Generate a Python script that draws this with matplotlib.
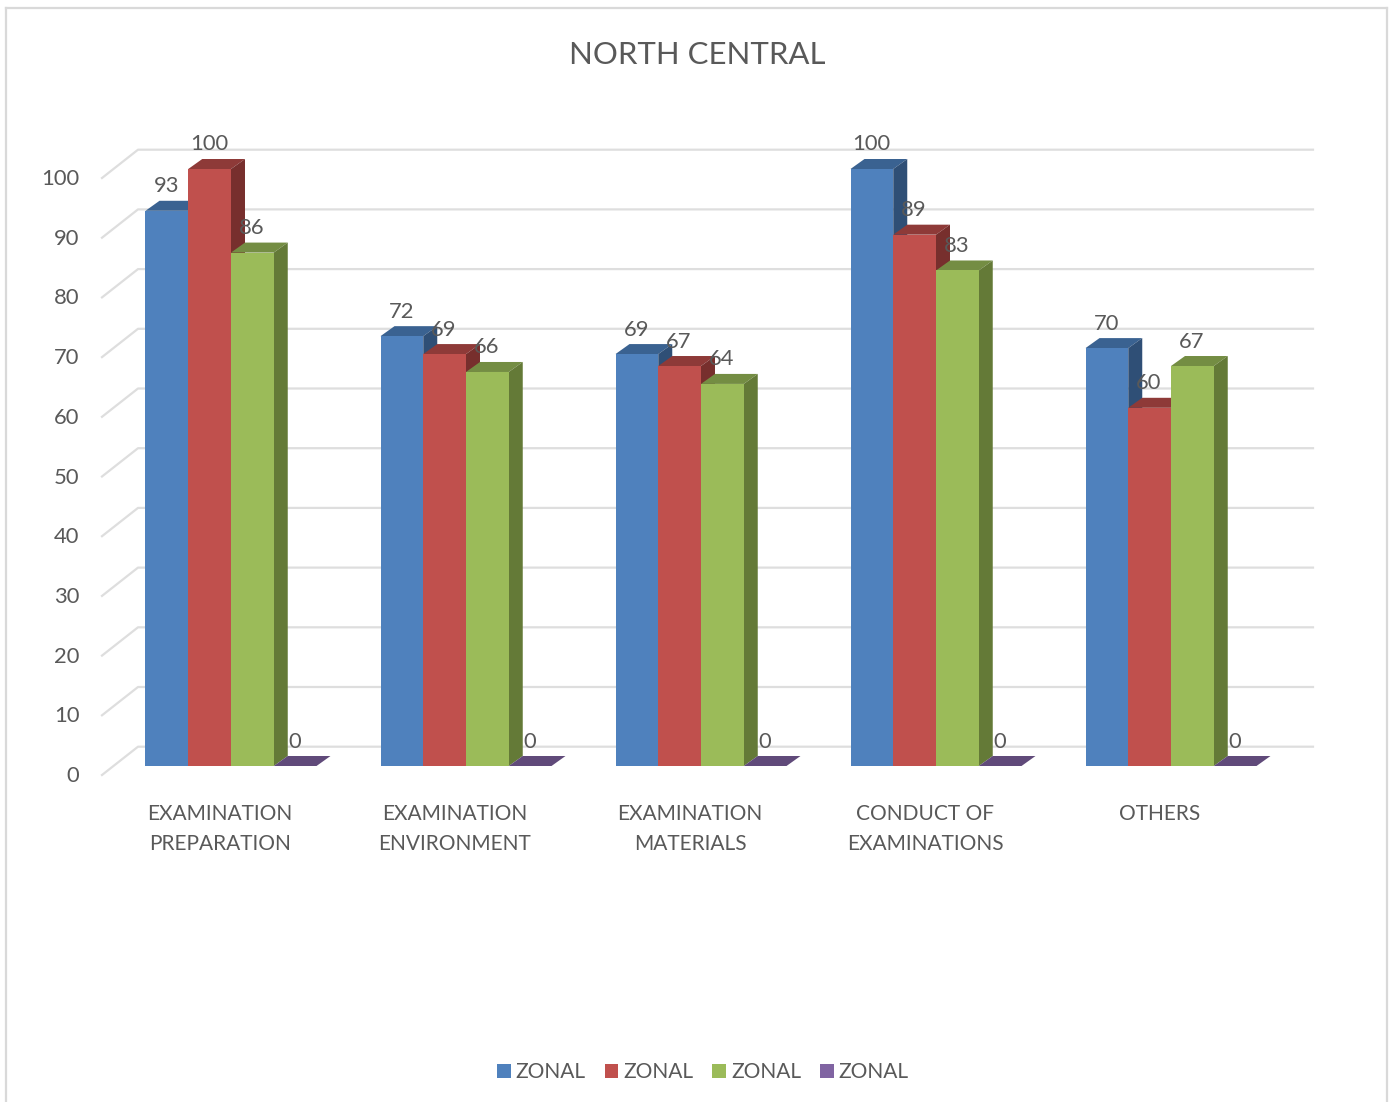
import matplotlib
matplotlib.use("Agg")
import matplotlib.pyplot as plt
from matplotlib.lines import Line2D
from matplotlib.patches import Patch
from matplotlib.transforms import ScaledTranslation

categories = ["EXAMINATION\nPREPARATION", "EXAMINATION\nENVIRONMENT", "EXAMINATION\nMATERIALS",
              "CONDUCT OF\nEXAMINATIONS", "OTHERS"]
series_names = ["ZONAL", "ZONAL", "ZONAL", "ZONAL"]
blue_values = [93, 72, 69, 100, 70]
red_values = [100, 69, 67, 89, 60]
green_values = [86, 66, 64, 83, 67]
purple_values = [0, 0, 0, 0, 0]
y_ticks = [0, 10, 20, 30, 40, 50, 60, 70, 80, 90, 100]

front_colors = ["#4F81BD", "#C0504D", "#9BBB59", "#8064A2"]
top_colors = ["#3A6291", "#8E3A38", "#748D43", "#604A7A"]
side_colors = ["#2F4F76", "#772F2D", "#647A37", "#4F3D66"]
text_color = "#595959"
grid_color = "#DEDEDE"

W, H = 1395, 1102
# px per data unit, front plane of the bars
PX_X = 235.0
PX_Y = 5.97
BAR_W = 42.75 / PX_X
DEPTH_X = 14 / PX_X
DEPTH_Y = 10 / PX_Y

plt.rcParams["font.family"] = ["Lato", "DejaVu Sans"]

fig = plt.figure(figsize=(W / 100, H / 100), dpi=100)
ax = fig.add_axes([113.5 / W, 1 - 766 / H, 5 * PX_X / W, 100 * PX_Y / H])
ax.set_xlim(0, 5)
ax.set_ylim(0, 100)
for s in ax.spines.values():
    s.set_visible(False)

# back wall gridlines with the slanted floor part
for v in y_ticks:
    ax.plot([-11.5 / PX_X, 24.5 / PX_X, 1199.5 / PX_X],
            [v - 9 / PX_Y, v + 19.3 / PX_Y, v + 19.3 / PX_Y],
            color=grid_color, lw=1.6, clip_on=False, zorder=1)

all_values = [blue_values, red_values, green_values, purple_values]
z = 2
for c in range(len(categories)):
    for i, values in enumerate(all_values):
        v = values[c]
        x0 = c + 0.5 + (i - 2) * BAR_W
        x1 = x0 + BAR_W
        ax.fill([x0, x1, x1 + DEPTH_X, x0 + DEPTH_X], [v, v, v + DEPTH_Y, v + DEPTH_Y],
                color=top_colors[i], lw=0, clip_on=False, zorder=z)
        if v > 0:
            ax.fill([x1, x1 + DEPTH_X, x1 + DEPTH_X, x1], [0, DEPTH_Y, v + DEPTH_Y, v],
                    color=side_colors[i], lw=0, clip_on=False, zorder=z)
            ax.bar(x0, v, BAR_W, align="edge", color=front_colors[i], lw=0, clip_on=False, zorder=z)
        z += 1
        ax.annotate(str(v), (x0 + BAR_W / 2, v), xytext=(-0.5, 24.5 * 0.72), textcoords="offset points",
                    ha="center", va="center", fontsize=15.8, color=text_color, zorder=50,
                    annotation_clip=False)

ax.set_yticks(y_ticks)
ax.tick_params(axis="y", length=0, pad=24.5, labelsize=15.8, labelcolor=text_color)
ax.set_xticks([c + 0.5 for c in range(len(categories))])
ax.set_xticklabels(categories, linespacing=1.6)
ax.tick_params(axis="x", length=0, pad=27.5, labelsize=15, labelcolor=text_color)

# labels sit a bit off the real axis position, like the 3d projection does
for lab in ax.get_yticklabels():
    lab.set_transform(lab.get_transform() + ScaledTranslation(0, -8 / 100, fig.dpi_scale_trans))
for lab in ax.get_xticklabels():
    lab.set_transform(lab.get_transform() + ScaledTranslation(-11 / 100, 0, fig.dpi_scale_trans))

fig.suptitle("NORTH CENTRAL", x=697 / W, y=1 - 55.5 / H, va="center", ha="center",
             fontsize=22.4, color=text_color)

handles = [Patch(facecolor=col, lw=0) for col in front_colors]
fig.legend(handles, series_names, loc="center", bbox_to_anchor=(703 / W, 1 - 1072 / H), ncol=4,
           frameon=False, fontsize=15, labelcolor=text_color, handlelength=0.65, handleheight=0.65,
           handletextpad=0.25, columnspacing=0.9)

# chart frame, bottom edge is cut off in the original
frame = [([6, 6], [8, H]), ([6, 1387], [8, 8]), ([1387, 1387], [8, H])]
for xs, ys in frame:
    fig.add_artist(Line2D([x / W for x in xs], [1 - y / H for y in ys], color="#D9D9D9", lw=1.6))

fig.savefig("out.png", dpi=100)
